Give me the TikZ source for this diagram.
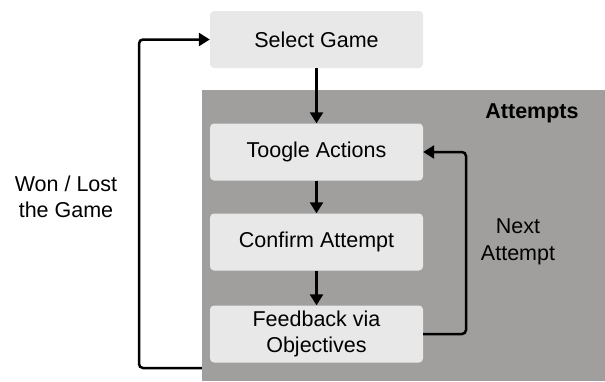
\documentclass[tikz,border=0pt]{standalone}
\usepackage{fontspec}
\setmainfont{Liberation Sans}
\usetikzlibrary{arrows.meta}
\definecolor{boxfill}{HTML}{E8E8E8}
\definecolor{grayarea}{HTML}{A09F9E}
\begin{document}
\begin{tikzpicture}[x=1pt,y=-1pt,
 stepbox/.style={draw=none, fill=boxfill, rounded corners=4pt, minimum width=213pt, minimum height=57pt, inner sep=0pt, font=\fontsize{21.5}{26}\selectfont, align=center},
 flow/.style={line width=2.5pt, -{Triangle[length=11pt,width=13pt]}, rounded corners=4pt},
 lbl/.style={font=\fontsize{21.5}{26.5}\selectfont, align=center, inner sep=0pt}]
\useasboundingbox (0,0) rectangle (605,381);
\coordinate (loopstart) at (206,368);
\node[stepbox] (sel) at (316.5,39.5) {Select Game};
\draw[flow] (loopstart) -- (139,368) |- (sel.west);
\node[fill=grayarea, anchor=north west, minimum width=403pt, minimum height=291pt, inner sep=0pt] (area) at (202,90) {};
\node[lbl, font=\fontsize{21.5}{26}\selectfont\bfseries] (att) at (532,113) {Attempts};
\node[stepbox] (tog) at (316.5,152) {Toogle Actions};
\node[stepbox] (conf) at (316.5,242) {Confirm Attempt};
\node[stepbox] (fb) at (316.5,334) {Feedback via\\Objectives};
\draw[flow] (sel.south) -- (tog.north);
\draw[flow] (tog.south) -- (conf.north);
\draw[flow] (conf.south) -- (fb.north);
\draw[flow] (fb.east) -- (466,334) |- (tog.east);
\node[lbl] (next) at (518,242) {Next\\Attempt};
\node[lbl] (won) at (66,197) {Won / Lost\\the Game};
\end{tikzpicture}
\end{document}
